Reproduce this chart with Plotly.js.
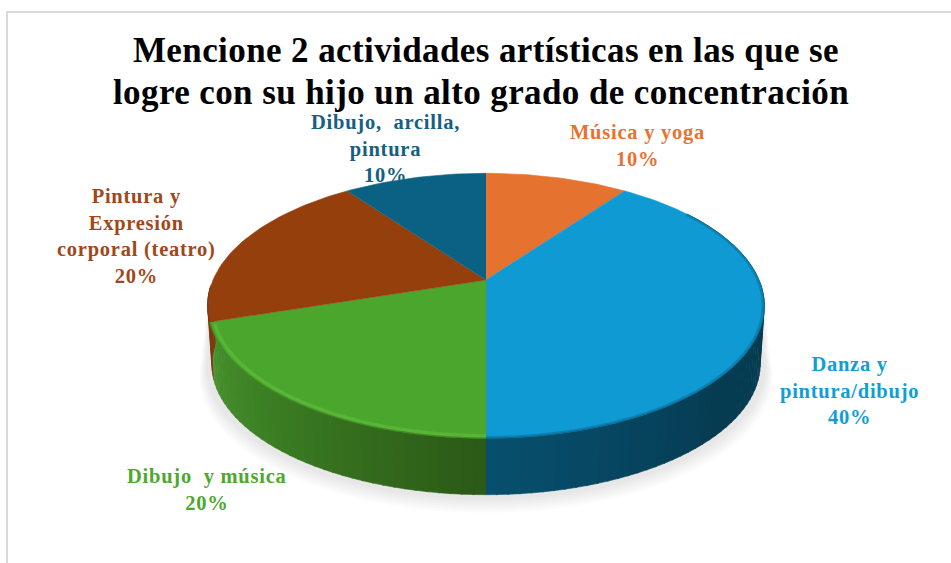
<!DOCTYPE html>
<html>
<head>
<meta charset="utf-8">
<script src="https://cdn.plot.ly/plotly-3.0.1.min.js"></script>
<style>
html,body{margin:0;padding:0;background:#fff}
#chart{width:951px;height:563px}
.annotation-text{letter-spacing:.75px}
.gtitle{letter-spacing:.4px}
</style>
</head>
<body>
<div id="chart"></div>
<script>
// ---- Data ----
const categories = ["Música y yoga", "Danza y pintura/dibujo", "Dibujo y música", "Pintura y Expresión corporal (teatro)", "Dibujo, arcilla, pintura"];
const shares = [10, 40, 20, 20, 10];
const labelLines = [
  ["Música y yoga"],
  ["Danza y", "pintura/dibujo"],
  ["Dibujo  y música"],
  ["Pintura y", "Expresión", "corporal (teatro)"],
  ["Dibujo,  arcilla,", "pintura"]
];
const titleLines = ["Mencione 2 actividades artísticas en las que se", "logre con su hijo un alto grado de concentración"];

// ---- Styling and layout ----
const faceColors = ["#E6722F", "#0F9AD3", "#4BA62D", "#953F0D", "#0B6183"];
const textColors = ["#E97132", "#0F9ED5", "#4EA72E", "#A0481A", "#156082"];
const labelX = [637, 849, 207, 136, 385];
const labelY = [145.5, 390, 489, 236, 148];
const cx = 486, apexY = 280, persp = 0.194, A = 273, B = 127.4, depth = 59, bottomScale = 0.985;

function pt(deg, scale, dy) {
  const t = deg * Math.PI / 180, X = Math.sin(t), Z = Math.cos(t), w = 1 + persp * Z;
  return [cx + scale * A * X / w, apexY - scale * B * Z / w + dy];
}
function arc(d0, d1, scale, dy) {
  const n = Math.max(2, Math.ceil(Math.abs(d1 - d0) / 1.5)), pts = [];
  for (let i = 0; i <= n; i++) pts.push(pt(d0 + (d1 - d0) * i / n, scale, dy));
  return pts;
}
function mix(a, b, f) {
  const p = s => [1, 3, 5].map(i => parseInt(s.substr(i, 2), 16));
  const ca = p(a), cb = p(b);
  return "rgb(" + ca.map((v, i) => Math.round(v + (cb[i] - v) * f)).join(",") + ")";
}
const traces = [];
function poly(pts, color) {
  traces.push({type: "scatter", mode: "lines", x: pts.map(p => p[0]), y: pts.map(p => p[1]),
    fill: "toself", fillcolor: color, line: {color: color, width: 0.6}, hoverinfo: "skip", showlegend: false});
}
function stroke(pts, color, width) {
  traces.push({type: "scatter", mode: "lines", x: pts.map(p => p[0]), y: pts.map(p => p[1]),
    line: {color: color, width: width, shape: "spline"}, hoverinfo: "skip", showlegend: false});
}

// slice boundaries from the shares
const total = shares.reduce((a, b) => a + b, 0);
const edges = [0];
shares.forEach(v => edges.push(edges[edges.length - 1] + v / total * 360));

// soft shadow
for (let i = 6; i >= 1; i--) {
  const r = arc(95, 265, 1 + 0.005 * i, depth + 1.8 * i);
  poly(r.concat(arc(265, 95, 1, 0)), "rgba(0,0,0,0.016)");
}

// side wall, in narrow bands so it shades
const sideRamps = [
  null,
  [["#063B50", 0], ["#063C52", 0.45], ["#07506F", 1]],
  [["#2C5A17", 0], ["#3C7F24", 0.6], ["#4A9430", 1]],
  [["#7F3810", 0], ["#7F3810", 1]],
  null
];
for (let s = 1; s <= 3; s++) {
  const ramp = sideRamps[s];
  const a0 = Math.max(edges[s], 92), a1 = Math.min(edges[s + 1], 268);
  for (let d = a0; d < a1; d += 2) {
    const e = Math.min(d + 2.3, a1);
    const f = (d - a0) / (a1 - a0);
    let c;
    if (f <= ramp[1][1]) c = mix(ramp[0][0], ramp[1][0], f / ramp[1][1]);
    else c = mix(ramp[1][0], ramp[2] ? ramp[2][0] : ramp[1][0], (f - ramp[1][1]) / (1 - ramp[1][1] || 1));
    poly(arc(d, e, 1, 0).concat(arc(e, d, bottomScale, depth)), c);
  }
}

// top face
for (let s = 0; s < shares.length; s++) {
  poly([pt(0, 0, 0)].concat(arc(edges[s], edges[s + 1], 1, 0)), faceColors[s]);
}

// bevel along the rim
stroke(arc(edges[2], edges[3] - 1, 0.985, 0), "rgba(92,186,58,0.75)", 3.5);
stroke(arc(edges[2], edges[3], 1.0, 0), "#418A28", 1.2);
stroke(arc(55, edges[2], 0.995, 0), "rgba(12,120,165,0.7)", 2.5);
stroke(arc(55, edges[2], 1.0, 0), "#0A6C93", 1);
stroke(arc(edges[3], edges[3] + 15, 1.0, 0), "#7F3810", 1.2);

const annotations = categories.map((c, i) => ({
  x: labelX[i], y: labelY[i], xref: "x", yref: "y", xanchor: "center", yanchor: "middle",
  showarrow: false, align: "center",
  text: labelLines[i].concat([shares[i] + "%"]).join("<br>"),
  font: {family: "Liberation Serif", size: 20.5, color: textColors[i], weight: 700}
}));

const layout = {
  width: 951, height: 563,
  margin: {l: 0, r: 0, t: 0, b: 0},
  paper_bgcolor: "#fff", plot_bgcolor: "#fff",
  showlegend: false,
  title: {
    text: "<b>" + titleLines.join("<br>") + "</b>",
    x: 486 / 951, xref: "paper", xanchor: "center",
    y: 1 - 62 / 563, yref: "paper", yanchor: "middle",
    font: {family: "Liberation Serif", size: 35, color: "#000"}
  },
  xaxis: {range: [0, 951], visible: false, fixedrange: true},
  yaxis: {range: [563, 0], visible: false, fixedrange: true},
  annotations: annotations,
  shapes: [
    {type: "line", xref: "paper", yref: "paper", x0: 7 / 951, x1: 7 / 951, y0: 0, y1: 1 - 11 / 563, line: {color: "#D9D9D9", width: 2}},
    {type: "line", xref: "paper", yref: "paper", x0: 6 / 951, x1: 1, y0: 1 - 12 / 563, y1: 1 - 12 / 563, line: {color: "#D9D9D9", width: 2}}
  ]
};
Plotly.newPlot("chart", traces, layout, {displayModeBar: false, staticPlot: true}).then(() => {
  const lines = document.querySelectorAll(".gtitle tspan.line");
  if (lines.length > 1) { lines[1].setAttribute("dy", "1.2em"); lines[1].setAttribute("dx", "-5"); }
});
</script>
</body>
</html>
